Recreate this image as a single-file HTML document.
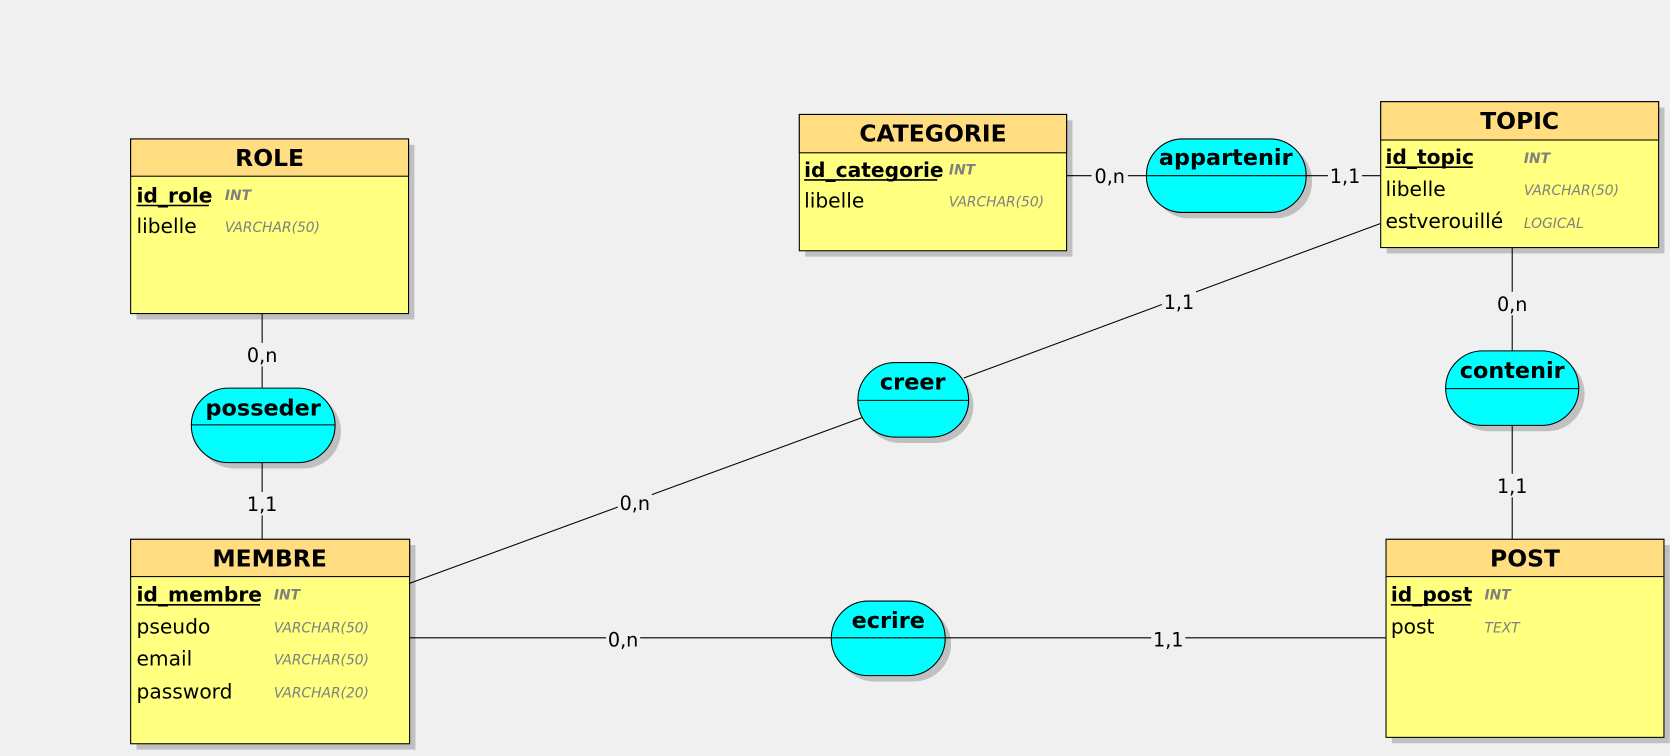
<!DOCTYPE html>
<html><head><meta charset="utf-8">
<style>
html,body{margin:0;padding:0;background:#f0f0f0;width:1670px;height:756px;overflow:hidden}
svg{display:block;font-family:"DejaVu Sans","Liberation Sans",sans-serif}
.t{font-weight:bold;font-size:22px;fill:#000;text-anchor:middle}
.a{font-size:19px;fill:#000}
.k{font-size:19px;font-weight:bold;fill:#000}
.ty{font-size:13px;font-style:italic;fill:#808080}
.tyb{font-size:13px;font-style:italic;font-weight:bold;fill:#808080}
.c{font-size:18px;fill:#000;text-anchor:middle}
.as{font-weight:bold;font-size:21px;fill:#000;text-anchor:middle}
line{stroke:#000;stroke-width:1}
</style></head><body>
<svg width="1670" height="756" viewBox="0 0 1568 710">
<!-- entities -->
<g>
<rect x="128" y="136" width="261" height="164" fill="#c0c0c0"/>
<rect x="122.5" y="130.5" width="261" height="164" fill="#ffff80" stroke="#000"/>
<rect x="122.5" y="130.5" width="261" height="35" fill="#ffdd80" stroke="#000"/>
<text class="t" x="253" y="156">ROLE</text>
<text class="k" x="128" y="190">id_role</text><line x1="128" y1="193" x2="196" y2="193" style="stroke-width:1.5"/>
<text class="tyb" x="211" y="188">INT</text>
<text class="a" x="128" y="219">libelle</text><text class="ty" x="211" y="218">VARCHAR(50)</text>
</g>
<g>
<rect x="756" y="113" width="251" height="128" fill="#c0c0c0"/>
<rect x="750.5" y="107.5" width="251" height="128" fill="#ffff80" stroke="#000"/>
<rect x="750.5" y="107.5" width="251" height="36" fill="#ffdd80" stroke="#000"/>
<text class="t" x="876" y="133">CATEGORIE</text>
<text class="k" x="755" y="166">id_categorie</text><line x1="755" y1="169" x2="880" y2="169" style="stroke-width:1.5"/>
<text class="tyb" x="891" y="164">INT</text>
<text class="a" x="755" y="195">libelle</text><text class="ty" x="891" y="194">VARCHAR(50)</text>
</g>
<g>
<rect x="1302" y="101" width="261" height="137" fill="#c0c0c0"/>
<rect x="1296.5" y="95.5" width="261" height="137" fill="#ffff80" stroke="#000"/>
<rect x="1296.5" y="95.5" width="261" height="36" fill="#ffdd80" stroke="#000"/>
<text class="t" x="1427" y="121">TOPIC</text>
<text class="k" x="1301" y="154">id_topic</text><line x1="1301" y1="157" x2="1383" y2="157" style="stroke-width:1.5"/>
<text class="tyb" x="1431" y="153">INT</text>
<text class="a" x="1301" y="184">libelle</text><text class="ty" x="1431" y="183">VARCHAR(50)</text>
<text class="a" x="1301" y="214">estverouillé</text><text class="ty" x="1431" y="214">LOGICAL</text>
</g>
<g>
<rect x="128" y="512" width="262" height="192" fill="#c0c0c0"/>
<rect x="122.5" y="506.5" width="262" height="192" fill="#ffff80" stroke="#000"/>
<rect x="122.5" y="506.5" width="262" height="35" fill="#ffdd80" stroke="#000"/>
<text class="t" x="253" y="532">MEMBRE</text>
<text class="k" x="128" y="565">id_membre</text><line x1="128" y1="568" x2="244" y2="568" style="stroke-width:1.5"/>
<text class="tyb" x="257" y="563">INT</text>
<text class="a" x="128" y="595">pseudo</text><text class="ty" x="257" y="594">VARCHAR(50)</text>
<text class="a" x="128" y="625">email</text><text class="ty" x="257" y="624">VARCHAR(50)</text>
<text class="a" x="128" y="656">password</text><text class="ty" x="257" y="655">VARCHAR(20)</text>
</g>
<g>
<rect x="1307" y="512" width="261" height="186" fill="#c0c0c0"/>
<rect x="1301.5" y="506.5" width="261" height="186" fill="#ffff80" stroke="#000"/>
<rect x="1301.5" y="506.5" width="261" height="35" fill="#ffdd80" stroke="#000"/>
<text class="t" x="1432" y="532">POST</text>
<text class="k" x="1306" y="565">id_post</text><line x1="1306" y1="568" x2="1381" y2="568" style="stroke-width:1.5"/>
<text class="tyb" x="1394" y="563">INT</text>
<text class="a" x="1306" y="595">post</text><text class="ty" x="1394" y="594">TEXT</text>
</g>
<!-- associations -->
<g>
<rect x="1082" y="136" width="150" height="69" rx="34" fill="#c0c0c0"/>
<rect x="1076.5" y="130.5" width="150" height="69" rx="34" fill="#00ffff" stroke="#000"/>
<line x1="1076" y1="165" x2="1226" y2="165"/>
<text class="as" x="1151" y="155">appartenir</text>
</g>
<g>
<rect x="810" y="346" width="104" height="70" rx="35" fill="#c0c0c0"/>
<rect x="805.5" y="340.5" width="104" height="70" rx="35" fill="#00ffff" stroke="#000"/>
<line x1="805" y1="376" x2="909" y2="376"/>
<text class="as" x="857" y="366">creer</text>
</g>
<g>
<rect x="1363" y="335" width="125" height="70" rx="35" fill="#c0c0c0"/>
<rect x="1357.5" y="329.5" width="125" height="70" rx="35" fill="#00ffff" stroke="#000"/>
<line x1="1357" y1="365" x2="1482" y2="365"/>
<text class="as" x="1420" y="355">contenir</text>
</g>
<g>
<rect x="185" y="370" width="135" height="70" rx="35" fill="#c0c0c0"/>
<rect x="179.5" y="364.5" width="135" height="70" rx="35" fill="#00ffff" stroke="#000"/>
<line x1="179" y1="399" x2="314" y2="399"/>
<text class="as" x="247" y="390">posseder</text>
</g>
<g>
<rect x="786" y="570" width="107" height="70" rx="35" fill="#c0c0c0"/>
<rect x="780.5" y="564.5" width="107" height="70" rx="35" fill="#00ffff" stroke="#000"/>
<line x1="780" y1="599" x2="887" y2="599"/>
<text class="as" x="834" y="590">ecrire</text>
</g>
<!-- links -->
<g>
<line x1="246" y1="294" x2="246" y2="364"/>
<line x1="246" y1="434" x2="246" y2="506"/>
<line x1="1001" y1="165" x2="1076" y2="165"/>
<line x1="1226" y1="165" x2="1296" y2="165"/>
<line x1="1420" y1="232" x2="1420" y2="329"/>
<line x1="1420" y1="399" x2="1420" y2="506"/>
<line x1="384" y1="548" x2="810" y2="392"/>
<line x1="905" y1="355" x2="1296" y2="210"/>
<line x1="384" y1="599" x2="780" y2="599"/>
<line x1="887" y1="599" x2="1301" y2="599"/>
</g>
<g>
<rect x="230" y="322" width="32" height="22" fill="#f0f0f0"/><text class="c" x="246" y="340">0,n</text>
<rect x="230" y="462" width="32" height="22" fill="#f0f0f0"/><text class="c" x="246" y="480">1,1</text>
<rect x="1025" y="155" width="34" height="22" fill="#f0f0f0"/><text class="c" x="1042" y="172">0,n</text>
<rect x="1247" y="155" width="32" height="22" fill="#f0f0f0"/><text class="c" x="1263" y="172">1,1</text>
<rect x="1404" y="274" width="32" height="22" fill="#f0f0f0"/><text class="c" x="1420" y="292">0,n</text>
<rect x="1404" y="445" width="32" height="22" fill="#f0f0f0"/><text class="c" x="1420" y="463">1,1</text>
<rect x="580" y="461" width="32" height="22" fill="#f0f0f0"/><text class="c" x="596" y="479">0,n</text>
<rect x="1091" y="272" width="32" height="22" fill="#f0f0f0"/><text class="c" x="1107" y="290">1,1</text>
<rect x="569" y="589" width="32" height="22" fill="#f0f0f0"/><text class="c" x="585" y="607">0,n</text>
<rect x="1081" y="589" width="32" height="22" fill="#f0f0f0"/><text class="c" x="1097" y="607">1,1</text>
</g>
</svg>
</body></html>
